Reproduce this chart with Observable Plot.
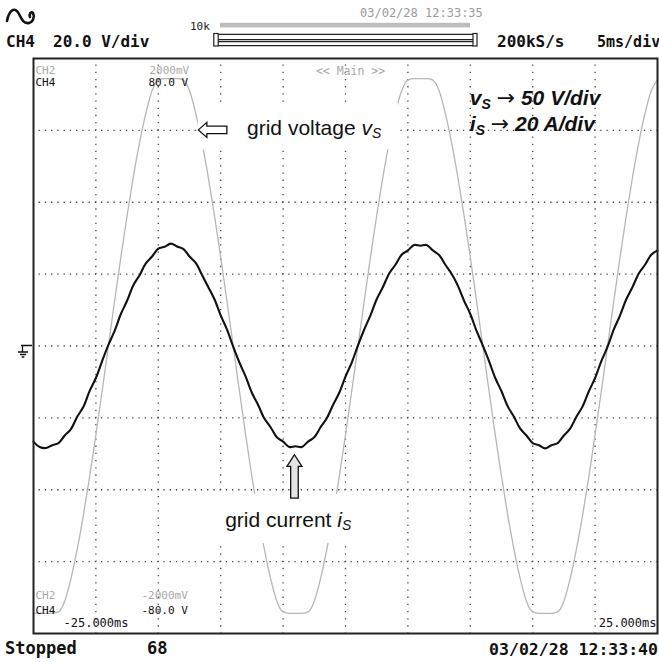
<!DOCTYPE html>
<html>
<head>
<meta charset="utf-8">
<script src="https://cdn.jsdelivr.net/npm/d3@7"></script>
<script src="https://cdn.jsdelivr.net/npm/@observablehq/plot@0.6"></script>
<style>
  body { margin: 0; background: #fff; }
  #scope { position: relative; width: 659px; height: 662px; overflow: hidden; background: #fff; }
  #scope > svg { position: absolute; left: 0; }
  .mono { font-family: "DejaVu Sans Mono", "Liberation Mono", monospace; }
</style>
</head>
<body>
<div id="scope">
  <svg id="header" width="659" height="56" style="top:0" class="mono">
    <path d="M7,21 C9,10 15,6 19,14 C22,20 24,24 29,23 C33,22 35,17 33,13 C31,11 29,14 30,17" fill="none" stroke="#111" stroke-width="2.6" stroke-linecap="round"/>
    <text x="6" y="46.5" font-size="16" font-weight="bold" fill="#111">CH4</text>
    <text x="53" y="46.5" font-size="16" font-weight="bold" fill="#111">20.0 V/div</text>
    <text x="190" y="30" font-size="11" fill="#222">10k</text>
    <rect x="220" y="22.8" width="250" height="4.6" fill="#bcbcbc"/>
    <rect x="213.8" y="33.5" width="4.4" height="12.5" fill="#fff" stroke="#222" stroke-width="1.2"/>
    <path d="M218.2,34.4H473M218.2,39.6H473M218.2,41.6H473M218.2,45.6H473" stroke="#222" stroke-width="1.2"/>
    <rect x="473" y="33.5" width="4" height="12.5" fill="#fff" stroke="#222" stroke-width="1.2"/>
    <text x="360" y="16.5" font-size="12" fill="#9a9a9a">03/02/28 12:33:35</text>
    <text x="497" y="46.5" font-size="16" font-weight="bold" fill="#111">200kS/s</text>
    <text x="597" y="46.5" font-size="15" font-weight="bold" fill="#111">5ms/div</text>
  </svg>
  <svg id="footer" width="659" height="27" style="top:635px" class="mono">
    <text x="5" y="19" font-size="17" font-weight="bold" fill="#111">Stopped</text>
    <text x="147" y="19" font-size="17" font-weight="bold" fill="#111">68</text>
    <text x="658" y="20" font-size="16.5" font-weight="bold" fill="#111" text-anchor="end">03/02/28 12:33:40</text>
  </svg>
</div>
<script>
// Sample instants along the 10-division screen (ms), 5 ms/div
const sampleTimes = [
  -25, -24.5, -24, -23.5, -23, -22.5, -22, -21.5, -21, -20.5,
  -20, -19.5, -19, -18.5, -18, -17.5, -17, -16.5, -16, -15.5,
  -15, -14.5, -14, -13.5, -13, -12.5, -12, -11.5, -11, -10.5,
  -10, -9.5, -9, -8.5, -8, -7.5, -7, -6.5, -6, -5.5,
  -5, -4.5, -4, -3.5, -3, -2.5, -2, -1.5, -1, -0.5,
  0, 0.5, 1, 1.5, 2, 2.5, 3, 3.5, 4, 4.5,
  5, 5.5, 6, 6.5, 7, 7.5, 8, 8.5, 9, 9.5,
  10, 10.5, 11, 11.5, 12, 12.5, 13, 13.5, 14, 14.5,
  15, 15.5, 16, 16.5, 17, 17.5, 18, 18.5, 19, 19.5,
  20, 20.5, 21, 21.5, 22, 22.5, 23, 23.5, 24, 24.5,
  25
];

// Grid voltage v_S (V); the trace saturates at the screen edge
const gridVoltage = [
  -186, -186, -186, -186, -185, -177.5, -161.8, -141.4, -117.6, -90.8,
  -61.8, -31.3, 0, 31.3, 61.8, 90.8, 117.6, 141.4, 161.8, 177.5,
  185, 186, 186, 186, 185, 177.5, 161.8, 141.4, 117.6, 90.8,
  61.8, 31.3, 0, -31.3, -61.8, -90.8, -117.6, -141.4, -161.8, -177.5,
  -185, -186, -186, -186, -185, -177.5, -161.8, -141.4, -117.6, -90.8,
  -61.8, -31.3, 0, 31.3, 61.8, 90.8, 117.6, 141.4, 161.8, 177.5,
  185, 186, 186, 186, 185, 177.5, 161.8, 141.4, 117.6, 90.8,
  61.8, 31.3, 0, -31.3, -61.8, -90.8, -117.6, -141.4, -161.8, -177.5,
  -185, -186, -186, -186, -185, -177.5, -161.8, -141.4, -117.6, -90.8,
  -61.8, -31.3, 0, 31.3, 61.8, 90.8, 117.6, 141.4, 161.8, 177.5,
  185
];

// Grid current i_S (A)
const gridCurrent = [
  -26.6, -28.1, -28.4, -27.6, -27.0, -24.9, -23.1, -19.7, -16.9, -12.5,
  -8.9, -4.2, 0.3, 4.2, 8.9, 12.6, 16.9, 19.7, 23.0, 24.9,
  27.1, 27.6, 28.5, 27.7, 27.0, 24.9, 23.1, 19.8, 16.4, 13.0,
  8.5, 4.6, -0.2, -4.6, -8.5, -13.0, -16.4, -20.2, -22.6, -25.4,
  -26.6, -28.1, -27.9, -28.1, -26.6, -25.4, -22.6, -20.1, -16.4, -13.0,
  -8.5, -4.6, 0.2, 4.6, 8.5, 13.0, 16.4, 20.2, 22.6, 25.4,
  26.6, 28.1, 27.9, 28.1, 26.6, 25.3, 22.6, 20.1, 16.8, 12.6,
  8.9, 4.2, 0.2, -4.2, -8.9, -12.6, -16.8, -19.7, -23.0, -24.9,
  -27.0, -27.6, -28.5, -27.6, -27.0, -24.9, -23.0, -19.7, -16.8, -12.6,
  -8.9, -4.2, -0.2, 4.6, 8.5, 13.0, 16.4, 20.2, 22.6, 25.4,
  26.6
];

// Vertical sensitivities
const voltsPerDiv = 50;
const ampsPerDiv = 20;

// Graticule lines (ms and divisions)
const timeGrid = [-20, -15, -10, -5, 0, 5, 10, 15, 20];
const levelGrid = [-3, -2, -1, 0, 1, 2, 3];

// Scope readouts inside the screen
const topLabels = [
  {text: "CH2", dx: 2, dy: 8, fill: "#a8a8a8"},
  {text: "CH4", dx: 2, dy: 20, fill: "#111"},
  {text: "2000mV", dx: 116, dy: 8, fill: "#a8a8a8"},
  {text: "80.0 V", dx: 115, dy: 20, fill: "#111"}
];
const bottomLabels = [
  {text: "CH2", dx: 2, dy: -35, fill: "#a8a8a8"},
  {text: "CH4", dx: 2, dy: -20, fill: "#111"},
  {text: "-2000mV", dx: 108, dy: -35, fill: "#a8a8a8"},
  {text: "-80.0 V", dx: 108, dy: -20, fill: "#111"}
];
const screenStart = "-25.000ms";
const screenEnd = "25.000ms";
const zoomLabel = "<< Main >>";

const samples = sampleTimes.map((t, k) => ({t, v: gridVoltage[k], i: gridCurrent[k]}));

const mono = "DejaVu Sans Mono, monospace";
const labelMarks = (labels, anchor) => labels.map(d =>
  Plot.text([d.text], {frameAnchor: anchor, textAnchor: "start", dx: d.dx, dy: d.dy,
    fill: d.fill, fontFamily: mono, fontSize: 11}));

const plot = Plot.plot({
  width: 659,
  height: 579,
  marginTop: 2,
  marginBottom: 2,
  marginLeft: 33,
  marginRight: 2,
  x: {domain: [-25, 25], axis: null},
  y: {domain: [-4, 4], axis: null},
  style: {background: "white", overflow: "visible"},
  marks: [
    Plot.ruleY(levelGrid, {stroke: "#444", strokeWidth: 1.3, strokeDasharray: "1.3,4.94", strokeDashoffset: 0.65}),
    Plot.ruleX(timeGrid, {stroke: "#444", strokeWidth: 1.3, strokeDasharray: "1.3,5.89", strokeDashoffset: 0.65}),
    Plot.line(samples, {x: "t", y: d => d.v / voltsPerDiv, stroke: "#b6b6b6", strokeWidth: 1.3, curve: "monotone-x"}),
    Plot.line(samples, {x: "t", y: d => d.i / ampsPerDiv, stroke: "#111", strokeWidth: 2.1, curve: "catmull-rom"}),
    Plot.frame({stroke: "#222", strokeWidth: 2}),
    ...labelMarks(topLabels, "top-left"),
    ...labelMarks(bottomLabels, "bottom-left"),
    Plot.text([zoomLabel], {frameAnchor: "top", dx: 5, dy: 8, fill: "#a8a8a8", fontFamily: mono, fontSize: 11.5}),
    Plot.text([screenStart], {frameAnchor: "bottom-left", textAnchor: "start", dx: 30, dy: -7, fill: "#111", fontFamily: mono, fontSize: 12}),
    Plot.text([screenEnd], {frameAnchor: "bottom-right", textAnchor: "end", dx: -1, dy: -7, fill: "#111", fontFamily: mono, fontSize: 12})
  ]
});
plot.style.top = "56px";
document.getElementById("scope").appendChild(plot);

// Ground reference marker and signal annotations, placed through the plot scales
const sx = plot.scale("x"), sy = plot.scale("y");
const svg = d3.select(plot);
const left = 33;
const y0 = sy.apply(0);
svg.append("path")
  .attr("d", `M${left - 12},${y0}H${left - 1}M${left - 10.5},${y0}V${y0 + 6.5}M${left - 15},${y0 + 6.5}H${left - 5}M${left - 13},${y0 + 9}H${left - 7}M${left - 11.3},${y0 + 11.5}H${left - 8.7}`)
  .attr("stroke", "#111").attr("stroke-width", 1.3).attr("fill", "none");

const sans = "'Liberation Sans', Arial, Helvetica, sans-serif";

// Label with subscript: base text, italic symbol, subscript letter, trailing text
function noteText(g, x, y, parts, opts = {}) {
  const t = g.append("text").attr("x", x).attr("y", y).attr("text-anchor", "start")
    .attr("font-family", sans).attr("font-size", 21).attr("fill", "#111")
    .attr("font-weight", opts.bold ? "bold" : null).attr("font-style", opts.italic ? "italic" : null);
  if (parts.before) t.append("tspan").text(parts.before);
  t.append("tspan").attr("font-style", "italic").text(parts.symbol);
  t.append("tspan").attr("font-style", "italic").attr("font-size", 14).attr("dy", 3.5).text(parts.sub);
  if (parts.after) {
    t.append("tspan").attr("dy", -3.5).text(" ");
    t.append("tspan").attr("font-family", "'DejaVu Sans', sans-serif").attr("font-weight", "normal")
      .attr("font-style", "normal").attr("font-size", 22).text("\u2192");
    t.append("tspan").text(parts.after);
  }
  return t;
}

function backing(g, box) {
  g.insert("rect", ":first-child")
    .attr("x", box.x1).attr("y", box.y1)
    .attr("width", box.x2 - box.x1).attr("height", box.y2 - box.y1)
    .attr("fill", "white");
}

// grid voltage note with a left-pointing arrow at the falling edge
{
  const g = svg.append("g");
  const ax = sx.apply(-11.75), ay = sy.apply(3);
  const t = noteText(g, sx.apply(-7.85), sy.apply(2.93), {before: "grid voltage ", symbol: "v", sub: "S"});
  const b = t.node().getBBox();
  backing(g, {x1: ax - 0.5, x2: b.x + b.width + 16, y1: b.y - 13, y2: b.y + b.height + 8});
  g.append("path")
    .attr("d", `M${ax},${ay}l8.5,-7.5v3.7h20v7.6h-20v3.7z`)
    .attr("fill", "white").attr("stroke", "#111").attr("stroke-width", 1.3);
}

// grid current note with an up arrow at the trough
{
  const g = svg.append("g");
  const t = noteText(g, sx.apply(-9.6), sy.apply(-2.52), {before: "grid current ", symbol: "i", sub: "S"});
  const b = t.node().getBBox();
  backing(g, {x1: b.x - 10, x2: b.x + b.width + 6, y1: b.y - 14, y2: b.y + b.height + 10});
  const ux = sx.apply(-4.05), uy = sy.apply(-1.52);
  g.append("path")
    .attr("d", `M${ux},${uy}l7.5,11.7h-3.7v31.6h-7.6v-31.6h-3.7z`)
    .attr("fill", "#e4e4e4").attr("stroke", "#111").attr("stroke-width", 1.3);
}

// scale notes
{
  const g = svg.append("g");
  noteText(g, sx.apply(10.0), sy.apply(3.34), {symbol: "v", sub: "S", after: " 50 V/div"}, {bold: true, italic: true});
  noteText(g, sx.apply(10.0), sy.apply(2.98), {symbol: "i", sub: "S", after: " 20 A/div"}, {bold: true, italic: true});
}
</script>
</body>
</html>
